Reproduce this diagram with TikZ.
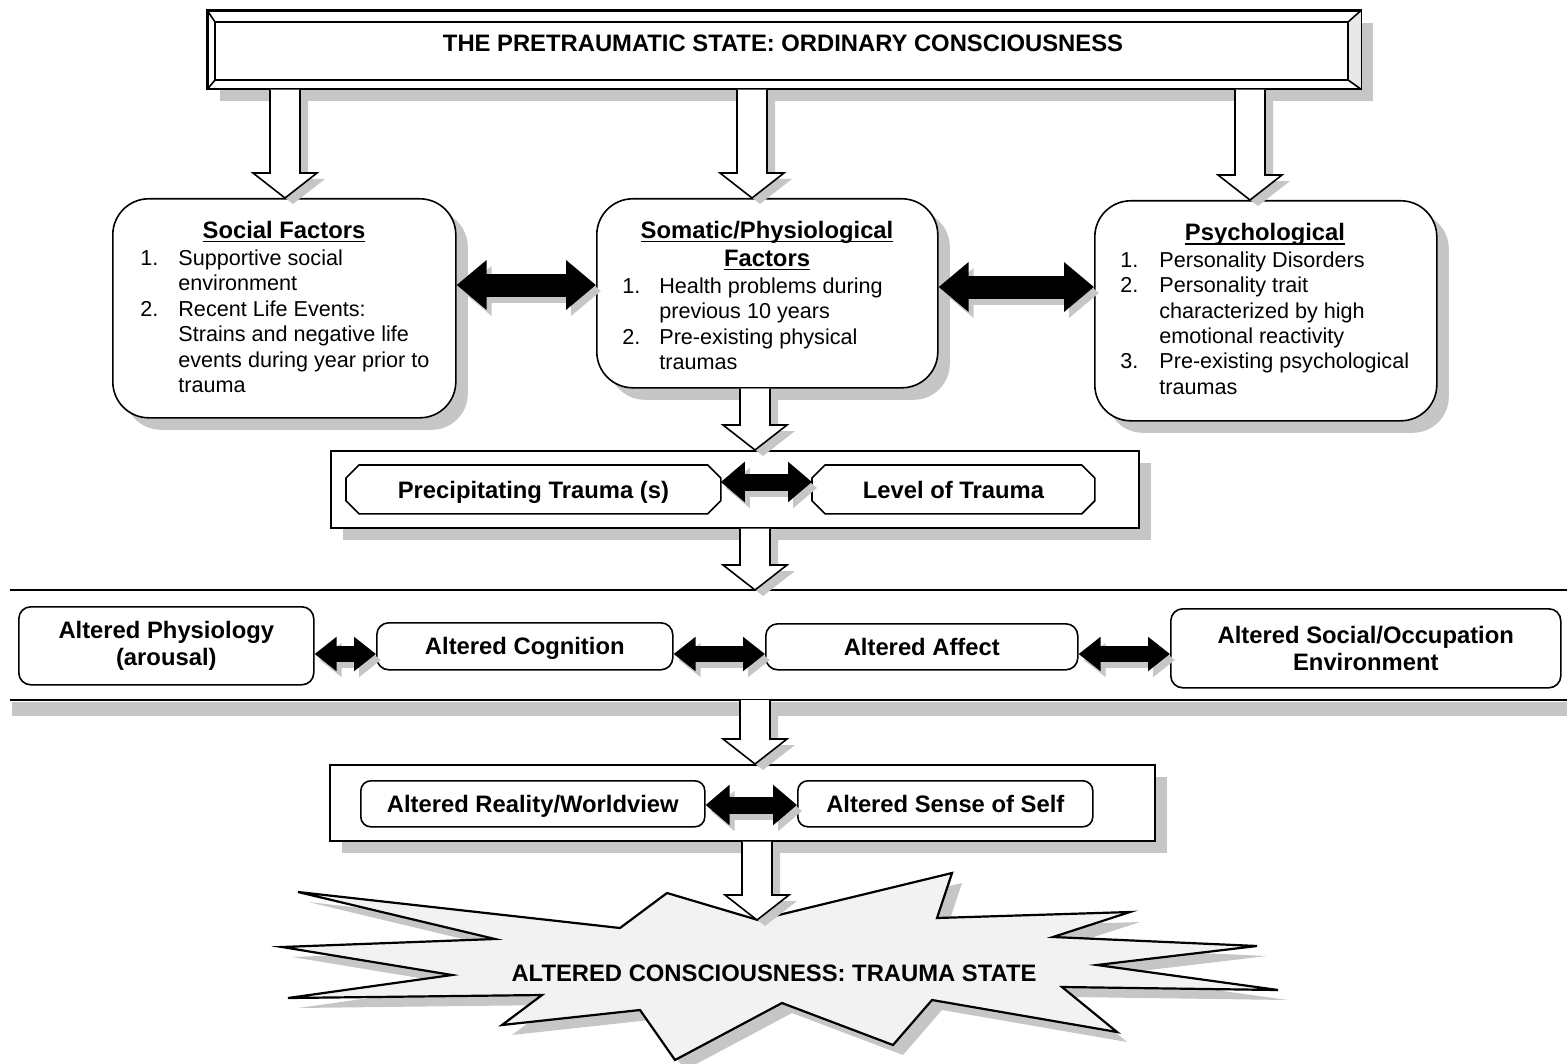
\documentclass[tikz,border=0pt]{standalone}
\usepackage{fontspec}
\setmainfont{Liberation Sans}
\usetikzlibrary{arrows.meta,shadows,calc}

\newcommand\ulhead[1]{\setbox0\hbox{#1}\rlap{\rule[-2pt]{\wd0}{0.75pt}}\box0}

\tikzset{
 body/.style={font=\fontsize{10.8}{12.75}\selectfont},
 bold/.style={font=\fontsize{11.9}{13.5}\selectfont\bfseries},
 oneline/.style={text height=8.6pt, text depth=0pt},
 shad/.style={drop shadow={shadow xshift=6pt,shadow yshift=-6pt,fill=gray!45,opacity=1}},
 bigbox/.style={draw, line width=0.8pt, rounded corners=18pt, fill=white, shad, anchor=north west, inner sep=0pt},
 cont/.style={draw, line width=0.8pt, fill=white, shad, anchor=north west, inner sep=0pt},
 rbox/.style={draw, line width=0.8pt, rounded corners=6pt, fill=white, anchor=north west, inner sep=0pt, bold, align=center},
 plainbox/.style={anchor=north west, inner sep=0pt, bold, oneline},
 blkA/.style={line width=11.5pt, {Triangle[length=15pt,width=24pt]}-{Triangle[length=15pt,width=24pt]}},
 blkB/.style={line width=8.5pt, {Triangle[length=12pt,width=19.5pt]}-{Triangle[length=12pt,width=19.5pt]}},
 blkC/.style={line width=8pt, {Triangle[length=11pt,width=16.5pt]}-{Triangle[length=11pt,width=16.5pt]}},
}

% hollow down arrow: #1 x (px), #2 from, #3 to
\newcommand\hdown[3]{%
 \fill[gray!45] let \p1=(#2), \p2=(#3), \n1={#1*0.5pt+4pt} in
   (\n1-7.5pt,\y1-3pt) -- (\n1-7.5pt,\y2+9.5pt) -- (\n1-16pt,\y2+9.5pt) -- (\n1,\y2-3pt) -- (\n1+16pt,\y2+9.5pt) -- (\n1+7.5pt,\y2+9.5pt) -- (\n1+7.5pt,\y1-3pt) -- cycle;
 \fill[white] let \p1=(#2), \p2=(#3), \n1={#1*0.5pt} in
   (\n1-7.5pt,\y1) -- (\n1-7.5pt,\y2+12.5pt) -- (\n1-16pt,\y2+12.5pt) -- (\n1,\y2) -- (\n1+16pt,\y2+12.5pt) -- (\n1+7.5pt,\y2+12.5pt) -- (\n1+7.5pt,\y1) -- cycle;
 \draw[line width=0.8pt, line join=miter] let \p1=(#2), \p2=(#3), \n1={#1*0.5pt} in
   (\n1-7.5pt,\y1) -- (\n1-7.5pt,\y2+12.5pt) -- (\n1-16pt,\y2+12.5pt) -- (\n1,\y2) -- (\n1+16pt,\y2+12.5pt) -- (\n1+7.5pt,\y2+12.5pt) -- (\n1+7.5pt,\y1);
}
% black double arrow with shadow: #1 style, #2 from, #3 to
\newcommand\blk[3]{%
 \draw[#1, gray!45] ($(#2)+(2.5pt,-3pt)$) -- ($(#3)+(2.5pt,-3pt)$);
 \draw[#1] (#2) -- (#3);
}
% chamfered outline around node
\newcommand\chamf[1]{\draw[line width=0.8pt] ([xshift=6.5pt]#1.north west) -- ([xshift=-6.5pt]#1.north east) -- ([yshift=-6.5pt]#1.north east) -- ([yshift=6.5pt]#1.south east) -- ([xshift=-6.5pt]#1.south east) -- ([xshift=6.5pt]#1.south west) -- ([yshift=6.5pt]#1.south west) -- ([yshift=-6.5pt]#1.north west) -- cycle;}

\begin{document}
\begin{tikzpicture}[x=0.5pt,y=-0.5pt]
\useasboundingbox (0,0) rectangle (1567,1064);

% ---------- banner ----------
\node[cont, minimum width=576.5pt, minimum height=39pt] (banner) at (207,10) {};
\fill[gray!18] (banner.north east) -- (banner.south east) -- (1348,80) -- (1348,22) -- cycle;
\draw[line width=0.8pt] (banner.north west) rectangle (banner.south east);
\draw[line width=0.8pt] (215,22) rectangle (1348,80);
\draw[line width=0.8pt] (banner.north west) -- (215,22) (banner.north east) -- (1348,22)
  (banner.south east) -- (1348,80) (banner.south west) -- (215,80);
\node[bold, oneline] (title) at (783,43) {THE PRETRAUMATIC STATE: ORDINARY CONSCIOUSNESS};

% ---------- three factor boxes ----------
\node[bigbox, minimum width=171.5pt, minimum height=109.5pt] (soc) at (112,198) {};
\node[bigbox, minimum width=170.5pt, minimum height=94.5pt] (soma) at (596,198) {};
\node[bigbox, minimum width=171pt, minimum height=110pt] (psy) at (1094,200) {};

\node[bold, anchor=base] (socH) at (284,238) {\ulhead{Social Factors}};
\node[body, anchor=base west, inner sep=0pt] (socL) at (140,265) {\begin{tabular}[t]{@{}p{19pt}@{}l@{}}
1. & Supportive social\\ & environment\\ 2. & Recent Life Events:\\ & Strains and negative life\\ & events during year prior to\\ & trauma\end{tabular}};

\node[bold, anchor=base] (somaH1) at (767,238) {\ulhead{Somatic/Physiological}};
\node[bold, anchor=base] (somaH2) at (767,266) {\ulhead{Factors}};
\node[body, anchor=base west, inner sep=0pt] (somaL) at (622,293) {\begin{tabular}[t]{@{}p{18.5pt}@{}l@{}}
1. & Health problems during\\ & previous 10 years\\ 2. & Pre-existing physical\\ & traumas\end{tabular}};

\node[bold, anchor=base] (psyH) at (1265,241) {\ulhead{Psychological}};
\node[body, anchor=base west, inner sep=0pt] (psyL) at (1120,267) {\begin{tabular}[t]{@{}p{19.5pt}@{}l@{}}
1. & Personality Disorders\\ 2. & Personality trait\\ & characterized by high\\ & emotional reactivity\\ 3. & Pre-existing psychological\\ & traumas\end{tabular}};

\coordinate (yA) at (0,285);
\coordinate (yB) at (0,287);
\blk{blkA}{soc.east |- yA}{soma.west |- yA}
\blk{blkA}{soma.east |- yB}{psy.west |- yB}

% ---------- trauma container ----------
\node[cont, minimum width=404pt, minimum height=38.5pt] (cont2) at (330,450) {};
\node[plainbox, minimum width=187pt, minimum height=24pt] (prec) at (346,465) {Precipitating Trauma (s)};
\node[plainbox, minimum width=141pt, minimum height=24pt] (lvl) at (812,465) {Level of Trauma};
\chamf{prec}
\chamf{lvl}
\coordinate (yC) at (0,482);
\blk{blkB}{prec.east |- yC}{lvl.west |- yC}

% ---------- altered band ----------
\coordinate (bandT) at (755,590);
\coordinate (bandB) at (755,700);
\draw[line width=0.6pt] (10,590) -- (1567,590);
\fill[gray!45] (12,702) rectangle (1567,716);
\draw[line width=1.2pt] (10,700) -- (1567,700);

\node[rbox, minimum width=147.5pt, minimum height=39pt] (phys) at (18,606) {Altered Physiology\\(arousal)};
\node[rbox, oneline, minimum width=148pt, minimum height=23.5pt] (cog) at (376,622) {Altered Cognition};
\node[rbox, oneline, minimum width=156pt, minimum height=23pt] (aff) at (765,623) {Altered Affect};
\node[rbox, minimum width=195pt, minimum height=39.5pt] (sococc) at (1170,608) {Altered Social/Occupation\\Environment};
\coordinate (yD) at (0,654);
\blk{blkC}{phys.east |- yD}{cog.west |- yD}
\blk{blkC}{cog.east |- yD}{aff.west |- yD}
\blk{blkC}{aff.east |- yD}{sococc.west |- yD}

% ---------- reality / self container ----------
\node[cont, minimum width=412.5pt, minimum height=38pt] (cont3) at (329,764) {};
\node[rbox, oneline, rounded corners=5pt, minimum width=172pt, minimum height=23pt] (real) at (360,780) {Altered Reality/Worldview};
\node[rbox, oneline, rounded corners=5pt, minimum width=147.5pt, minimum height=23pt] (self) at (797,780) {Altered Sense of Self};
\coordinate (yE) at (0,805);
\blk{blkB}{real.east |- yE}{self.west |- yE}

% ---------- star ----------
\begin{scope}[shift={(5pt,-5pt)}]
\fill[gray!45] (298,892) -- (620,928) -- (667,893) -- (758,920) -- (952,873) -- (937,918) -- (1130,912) -- (1053,937) -- (1257,946) -- (1097,965) -- (1278,990) -- (1062,987) -- (1117,1032) -- (932,1000) -- (893,1045) -- (782,1003) -- (675,1060) -- (640,1010) -- (502,1025) -- (542,995) -- (288,998) -- (452,975) -- (282,947) -- (495,939) -- cycle;
\end{scope}
\filldraw[fill=gray!10, line width=1.1pt, line join=miter] (298,892) -- (620,928) -- (667,893) -- (758,920) -- (952,873) -- (937,918) -- (1130,912) -- (1053,937) -- (1257,946) -- (1097,965) -- (1278,990) -- (1062,987) -- (1117,1032) -- (932,1000) -- (893,1045) -- (782,1003) -- (675,1060) -- (640,1010) -- (502,1025) -- (542,995) -- (288,998) -- (452,975) -- (282,947) -- (495,939) -- cycle;
\node[bold, oneline] (startext) at (774,973) {ALTERED CONSCIOUSNESS: TRAUMA STATE};
\coordinate (starTop) at (757,920);

% ---------- hollow arrows ----------
\hdown{285}{banner.south}{soc.north}
\hdown{752}{banner.south}{soma.north}
\hdown{1250}{banner.south}{psy.north}
\hdown{755}{soma.south}{cont2.north}
\hdown{755}{cont2.south}{bandT}
\hdown{755}{bandB}{cont3.north}
\hdown{757}{cont3.south}{starTop}

\end{tikzpicture}
\end{document}
